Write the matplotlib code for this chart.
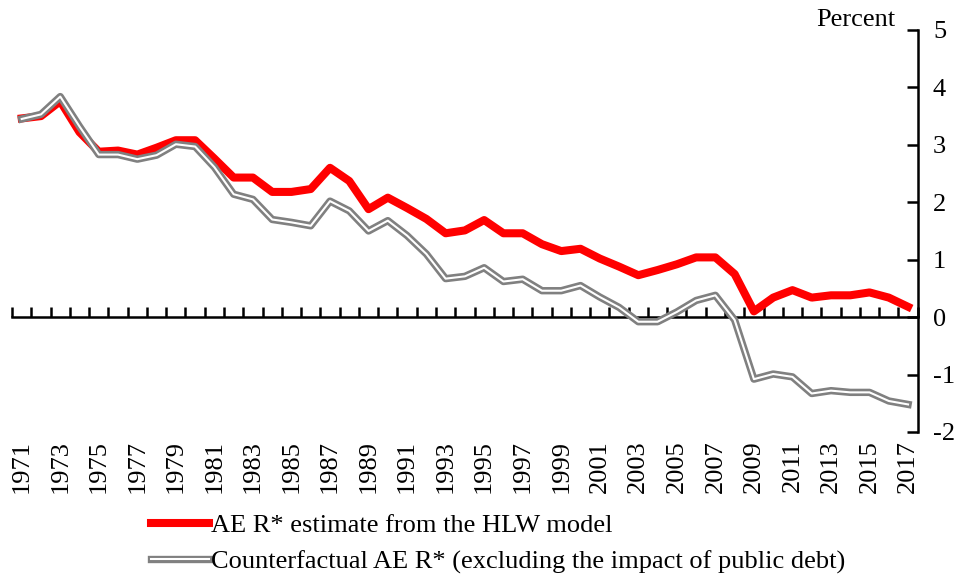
import matplotlib
matplotlib.use("Agg")
import matplotlib.pyplot as plt
from matplotlib.lines import Line2D
from matplotlib.legend_handler import HandlerTuple
import numpy as np

# ── Data ──────────────────────────────────────────────────────────────────────
years = list(range(1971, 2018))

hlw_rstar = [
    3.46, 3.50, 3.76, 3.22, 2.88, 2.90, 2.83, 2.95, 3.08, 3.08,
    2.76, 2.43, 2.43, 2.18, 2.18, 2.23, 2.60, 2.37, 1.88, 2.08,
    1.90, 1.71, 1.46, 1.51, 1.69, 1.46, 1.46, 1.27, 1.15, 1.19,
    1.02, 0.88, 0.73, 0.82, 0.92, 1.04, 1.04, 0.75, 0.10, 0.34,
    0.47, 0.34, 0.38, 0.38, 0.43, 0.34, 0.18,
]

counterfactual = [
    3.45, 3.53, 3.84, 3.32, 2.83, 2.83, 2.75, 2.82, 3.01, 2.97,
    2.61, 2.14, 2.05, 1.70, 1.65, 1.59, 2.02, 1.85, 1.50, 1.68,
    1.42, 1.10, 0.67, 0.71, 0.86, 0.62, 0.66, 0.46, 0.46, 0.55,
    0.35, 0.17, -0.08, -0.08, 0.09, 0.29, 0.38, -0.05, -1.08, -0.99,
    -1.04, -1.33, -1.28, -1.31, -1.31, -1.46, -1.52,
]

label_years = years[::2]
y_ticks = [-2, -1, 0, 1, 2, 3, 4, 5]

# ── Style ─────────────────────────────────────────────────────────────────────
plt.rcParams["font.family"] = ["Liberation Serif", "DejaVu Serif"]
RED = "#FF0000"
GREY = "#808080"
FS = 19

fig = plt.figure(figsize=(9.66, 5.76), dpi=100)
ax = fig.add_axes([0.0125, 0.25, 0.9375, 0.698])

x = np.arange(len(years))
ax.plot(x, hlw_rstar, color=RED, linewidth=5.8, zorder=3)
ax.plot(x, counterfactual, color=GREY, linewidth=5.3, zorder=4)
ax.plot(x, counterfactual, color="white", linewidth=1.5, zorder=5)

ax.set_xlim(-0.5, len(years) - 0.5)
ax.set_ylim(-2, 5)

# spines: right axis + horizontal axis at zero
for side in ("left", "top"):
    ax.spines[side].set_visible(False)
ax.spines["bottom"].set_position(("data", 0))
ax.spines["bottom"].set_linewidth(1.8)
ax.spines["right"].set_linewidth(1.8)

ax.yaxis.tick_right()
ax.set_yticks(y_ticks)
ax.set_yticklabels([str(v) for v in y_ticks], fontsize=FS)
ax.tick_params(axis="y", direction="in", length=8, width=1.8, pad=11)

ax.set_xticks(np.arange(-0.5, len(years), 1.0))
ax.set_xticklabels([])
ax.tick_params(axis="x", direction="in", length=7, width=1.8)

for yr in label_years:
    ax.text(years.index(yr), -0.02, str(yr), transform=ax.get_xaxis_transform(),
            rotation=90, ha="center", va="top", fontsize=FS)

fig.text(0.845, 0.955, "Percent", fontsize=FS, ha="left", va="baseline")

# ── Legend ────────────────────────────────────────────────────────────────────
h_red = Line2D([], [], color=RED, linewidth=5.8)
h_grey = (Line2D([], [], color=GREY, linewidth=5.3),
          Line2D([], [], color="white", linewidth=1.5))
fig.legend([h_red, h_grey],
           ["AE R* estimate from the HLW model",
            "Counterfactual AE R* (excluding the impact of public debt)"],
           handler_map={tuple: HandlerTuple(ndivide=1)},
           loc="upper left", bbox_to_anchor=(0.156, 0.108),
           frameon=False, fontsize=FS, handlelength=2.2,
           handletextpad=0.1, labelspacing=0.48, borderaxespad=0,
           borderpad=0)

fig.savefig("out.png", dpi=100)
